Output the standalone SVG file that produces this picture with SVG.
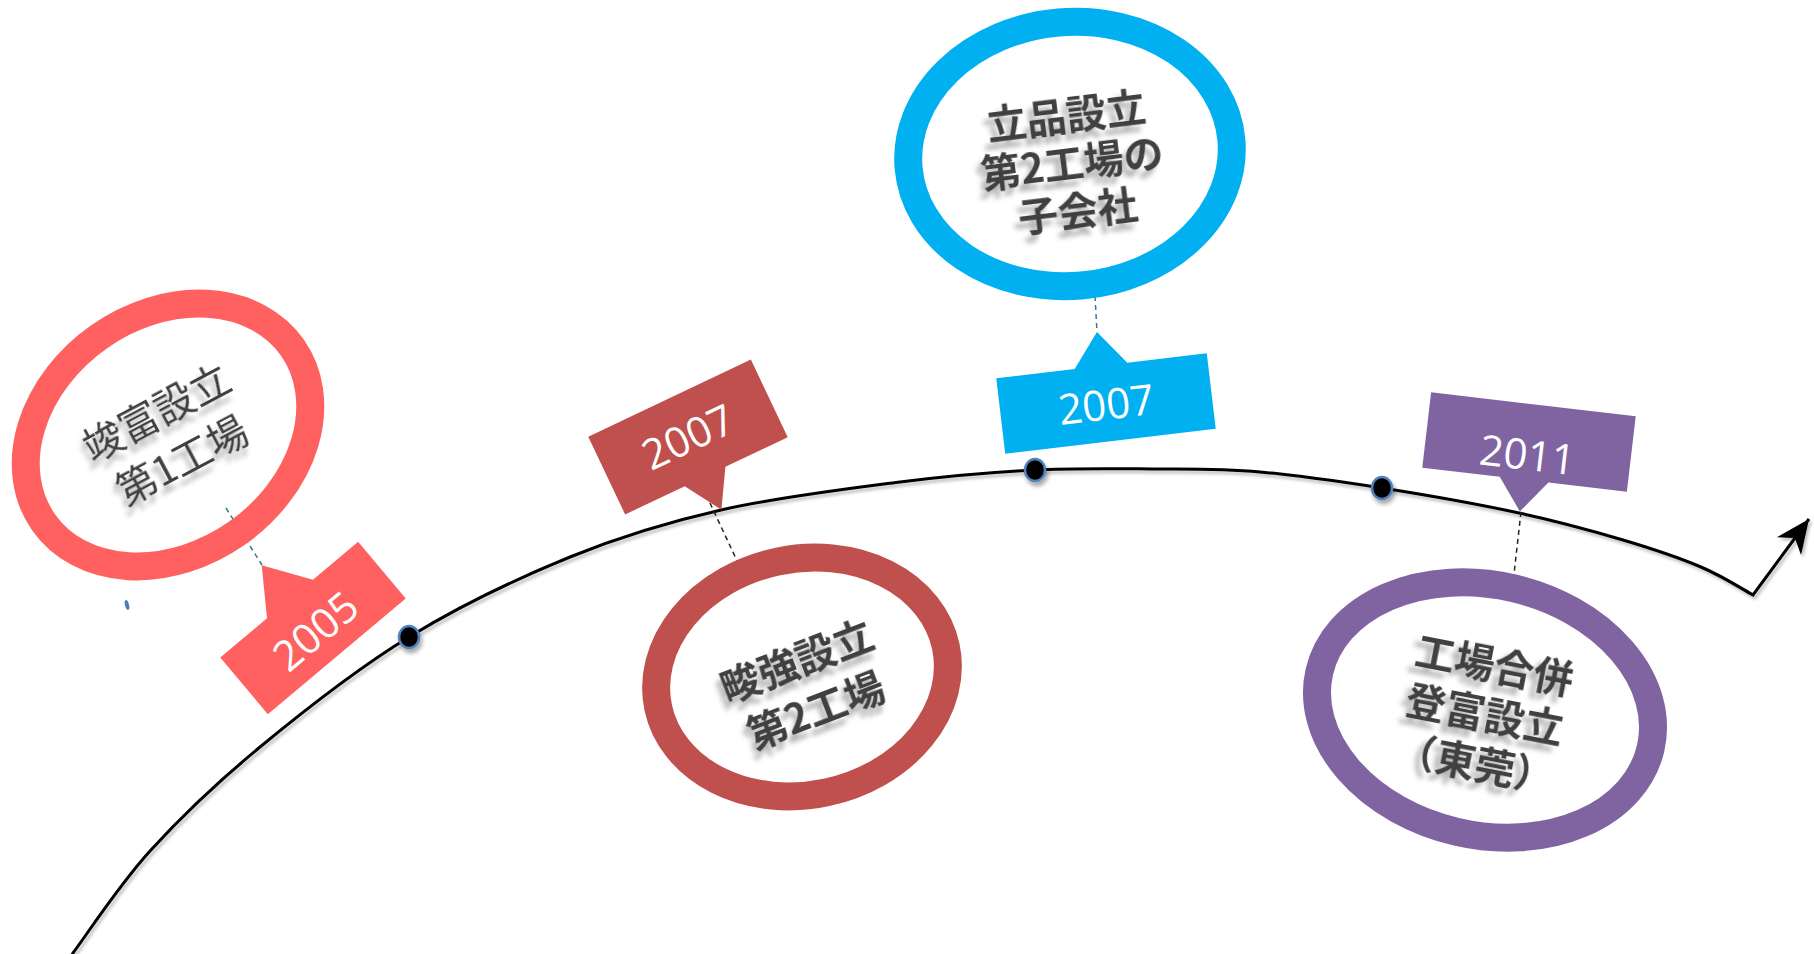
<svg xmlns="http://www.w3.org/2000/svg" width="1814" height="954" viewBox="0 0 1814 954">
<defs>
<style>
.ring{fill:none;stroke-width:28}
.jp{font-family:"Noto Sans CJK JP","Noto Sans CJK SC",sans-serif;font-size:40px;fill:#3F3F3F;text-anchor:middle}
.yr{font-family:"Open Sans","Liberation Sans",sans-serif;font-size:42px;fill:#FFFFFF;text-anchor:middle}
.dash{fill:none;stroke-width:1.5;stroke-dasharray:5 4}
.dot{fill:#000;stroke:#4F81BD;stroke-width:2.5}
</style>
<filter id="ts" x="-30%" y="-50%" width="160%" height="220%">
<feGaussianBlur in="SourceAlpha" stdDeviation="2.5"/>
<feOffset dx="-6" dy="7" result="b"/>
<feFlood flood-color="#000" flood-opacity="0.3"/>
<feComposite in2="b" operator="in"/>
<feMerge><feMergeNode/><feMergeNode in="SourceGraphic"/></feMerge>
</filter>
<filter id="ds" x="-50%" y="-50%" width="200%" height="200%">
<feGaussianBlur in="SourceAlpha" stdDeviation="2"/>
<feOffset dx="2" dy="4" result="b"/>
<feFlood flood-color="#000" flood-opacity="0.35"/>
<feComposite in2="b" operator="in"/>
<feMerge><feMergeNode/><feMergeNode in="SourceGraphic"/></feMerge>
</filter>
<filter id="ls" x="-5%" y="-5%" width="110%" height="110%">
<feGaussianBlur in="SourceAlpha" stdDeviation="1.5"/>
<feOffset dx="2" dy="3" result="b"/>
<feFlood flood-color="#000" flood-opacity="0.25"/>
<feComposite in2="b" operator="in"/>
<feMerge><feMergeNode/><feMergeNode in="SourceGraphic"/></feMerge>
</filter>
<marker id="arr" markerUnits="userSpaceOnUse" markerWidth="40" markerHeight="40" viewBox="-30 -15 32 30" refX="0" refY="0" orient="auto">
<path d="M0,0 L-27,-12 L-19,0 L-27,12 Z" fill="#000"/>
</marker>
</defs>
<rect width="1814" height="954" fill="#FFFFFF"/>

<g id="connectors">
<path id="timeline" filter="url(#ls)" fill="none" stroke="#000" stroke-width="3" marker-end="url(#arr)" d="M72,955 L73,953 C85.8,936 118.8,885.3 150,851 C181.2,816.7 216.8,782.7 260,747 C303.2,711.3 357.3,668.7 409,637 C460.7,605.3 518,578.2 570,557 C622,535.8 666,522.5 721,510 C776,497.5 847.8,488.7 900,482 C952.2,475.3 991.3,472.2 1034,470 C1076.7,467.8 1118.3,468.7 1156,469 C1193.7,469.3 1222.3,468.8 1260,472 C1297.7,475.2 1338.8,481.2 1382,488 C1425.2,494.8 1478.8,504.3 1519,513 C1559.2,521.7 1592.7,531 1623,540 C1653.3,549 1679.3,557.8 1701,567 C1722.7,576.2 1744.3,590.3 1753,595 L1809,519"/>
<path class="dash" stroke="#2F7F86" d="M226,508 L262,565"/>
<path class="dash" stroke="#222" d="M710,503 L739,565"/>
<path class="dash" stroke="#2F7F86" d="M1095,296 L1097,332"/>
<path class="dash" stroke="#222" d="M1521,512 L1514,574"/>
</g>

<g id="timeline-dots" filter="url(#ds)">
<ellipse class="dot" cx="409" cy="637" rx="10" ry="11"/>
<ellipse class="dot" cx="1035" cy="470" rx="10" ry="11"/>
<ellipse class="dot" cx="1382" cy="488" rx="10" ry="11"/>
</g>

<g id="node-2005">
<ellipse class="ring" stroke="#FF6161" cx="168" cy="435" rx="152" ry="120" transform="rotate(-35 168 435)"/>
<g transform="translate(169,436) rotate(-28)" filter="url(#ts)">
<text class="jp" x="0" y="-12">竣富設立</text>
<text class="jp" x="0" y="42">第1工場</text>
</g>
<g transform="translate(313,628) rotate(-40)">
<path fill="#FF6161" d="M-90,-37 L-29,-37 L1,-81 L31,-37 L90,-37 L90,37 L-90,37 Z"/>
<text class="yr" x="0" y="19">2005</text>
</g>
<ellipse cx="127" cy="605" rx="2" ry="5" fill="#4A7EBB" transform="rotate(-15 127 605)"/>
</g>

<g id="node-2007a">
<g transform="translate(688,437) rotate(-25.4)">
<path fill="#C0504D" d="M-90,-43 L90,-43 L90,43 L21,43 L-1,80 L-24,43 L-90,43 Z"/>
<text class="yr" x="0" y="15">2007</text>
</g>
<ellipse class="ring" stroke="#C0504D" cx="802" cy="677" rx="147" ry="118" transform="rotate(-12 802 677)"/>
<g transform="translate(806,685) rotate(-21)" filter="url(#ts)">
<text class="jp" font-weight="bold" x="0" y="-11">畯強設立</text>
<text class="jp" font-weight="bold" x="0" y="42">第2工場</text>
</g>
</g>

<g id="node-2007b">
<ellipse class="ring" stroke="#00B0F0" cx="1070" cy="154" rx="162" ry="132" transform="rotate(-5 1070 154)"/>
<g transform="translate(1072,163) rotate(-7)" filter="url(#ts)">
<text class="jp" font-weight="bold" x="0" y="-33">立品設立</text>
<text class="jp" font-weight="bold" x="0" y="15">第2工場の</text>
<text class="jp" font-weight="bold" x="0" y="63">子会社</text>
</g>
<g transform="translate(1106,403.5) rotate(-6.8)">
<path fill="#00B0F0" d="M-106,-38 L-27,-38 L-0.5,-72 L26,-38 L106,-38 L106,38 L-106,38 Z"/>
<text class="yr" x="0" y="16">2007</text>
</g>
</g>

<g id="node-2011">
<g transform="translate(1529,442) rotate(6.7)">
<path fill="#8064A2" d="M-103,-38 L103,-38 L103,38 L24,38 L-1,70 L-25,38 L-103,38 Z"/>
<text class="yr" x="0" y="28">2011</text>
</g>
<ellipse class="ring" stroke="#8064A2" cx="1485" cy="710" rx="170" ry="125" transform="rotate(13 1485 710)"/>
<g transform="translate(1485,714) rotate(11)" filter="url(#ts)">
<text class="jp" font-weight="bold" x="0" y="-35">工場合併</text>
<text class="jp" font-weight="bold" x="0" y="15">登富設立</text>
<text class="jp" font-weight="bold" x="0" y="65">（東莞）</text>
</g>
</g>
</svg>
